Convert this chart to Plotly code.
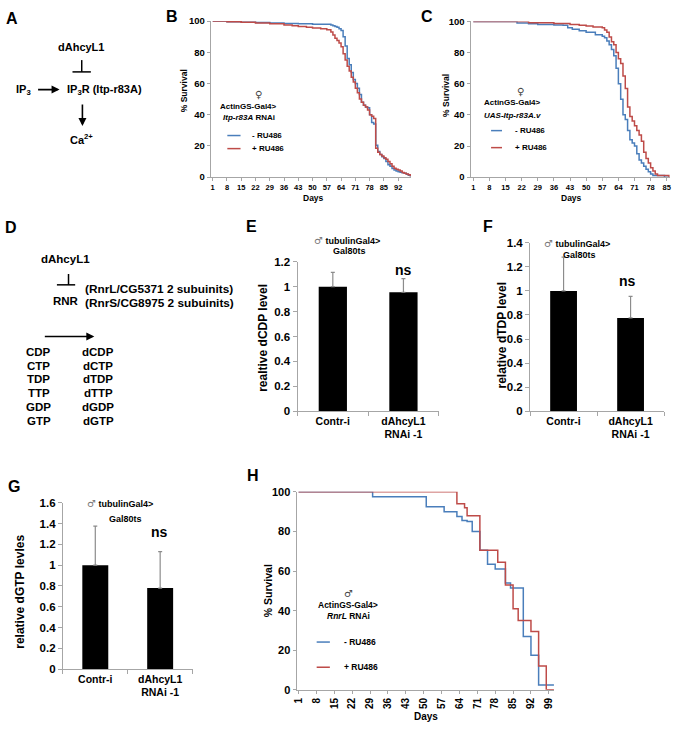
import plotly.graph_objects as go

W, H = 675, 729
def px(x): return x / W
def py(y): return 1 - y / H

# ---------------- data ----------------
# Panel B
b_days_minus = [1, 8, 15, 22, 29, 36, 43, 50, 57, 59, 60, 61, 62, 63, 64, 65, 66, 67, 68, 69, 70, 71, 72, 73, 74, 75, 76, 77, 78, 79, 80, 81, 82, 83, 84, 85, 86, 87, 88, 89, 90, 91, 92, 93, 94, 95, 96, 97, 98]
b_surv_minus = [100, 99.6, 99.3, 99.0, 98.7, 98.4, 98.2, 98.0, 98.0, 97.5, 97, 96.5, 96, 95, 94, 90, 84, 76, 72, 67, 62.5, 60, 57, 53, 48, 46, 45, 44.5, 40, 35, 34, 20.5, 16.5, 14.5, 13, 12, 10, 8, 7, 5.5, 4.6, 4, 3.5, 3.2, 2.8, 2.5, 1.8, 1.2, 0.4]
b_days_plus = [1, 8, 15, 22, 29, 36, 40, 43, 47, 50, 54, 57, 59, 60, 61, 62, 63, 64, 65, 66, 67, 68, 69, 70, 71, 72, 73, 74, 75, 76, 77, 78, 79, 80, 81, 82, 83, 84, 85, 86, 87, 88, 89, 90, 91, 92, 93, 94, 95, 96, 97, 98]
b_surv_plus = [100, 99.5, 99.2, 98.8, 98.2, 97.5, 97, 96.5, 96, 95.5, 95, 94.5, 93, 91, 89, 87.5, 86, 83.5, 79, 75, 71, 68, 64, 61, 57, 54, 50, 48, 46, 45, 43, 40, 39, 37.5, 18.5, 16, 14.5, 13.5, 12.5, 11.5, 10, 8.5, 7, 5.7, 5, 4.5, 4, 3, 2.5, 2, 1.5, 0.5]
b_ticks = [1, 8, 15, 22, 29, 36, 43, 50, 57, 64, 71, 78, 85, 92]

# Panel C
c_days_minus = [1, 15, 20, 25, 29, 36, 40, 42, 44, 47, 50, 54, 57, 58, 59, 60, 61, 62, 63, 64, 65, 66, 67, 68, 69, 70, 71, 72, 73, 74, 75, 76, 77, 78, 79, 84, 86]
c_surv_minus = [100, 100, 99, 98.5, 98, 97.7, 97.5, 96, 95, 94, 93, 91.5, 90.5, 89.5, 87.5, 85, 82, 78, 70, 60, 50, 40, 37, 30, 24, 22, 20, 15, 11, 9, 7, 5, 3.5, 2, 1, 0, 0]
c_days_plus = [1, 20, 25, 36, 43, 47, 50, 53, 57, 58, 59, 60, 61, 62, 63, 64, 65, 66, 67, 68, 69, 70, 71, 72, 73, 74, 75, 76, 77, 78, 79, 80, 81, 85, 86]
c_surv_plus = [100, 100, 99.2, 98.7, 98, 97.5, 97, 96.5, 96, 94.5, 93, 90, 87, 85, 80, 76, 73, 65, 57, 45, 39, 36, 33, 30, 27, 23, 16, 12, 9, 6, 4, 2, 1, 1, 0]
c_ticks = [1, 8, 15, 22, 29, 36, 43, 50, 57, 64, 71, 78, 85]

# Panel H
h_days_minus = [1, 30, 51, 58, 63, 65, 67, 69, 72, 75, 78, 82, 84, 89, 92, 95, 101]
h_surv_minus = [100, 97.5, 92.5, 90, 87.5, 85.5, 85, 80, 70.5, 63.5, 61, 54, 51.5, 27, 17.5, 2.5, 2.5]
h_days_plus = [1, 63, 66, 67, 72, 79, 82, 85, 87, 92, 95, 98, 101]
h_surv_plus = [100, 94, 92, 88, 70.5, 64.5, 53, 41, 35, 29.5, 12, 0, 0]
h_ticks = [1, 8, 15, 22, 29, 36, 43, 50, 57, 64, 71, 78, 85, 92, 99]

# Bar panels
bar_labels = ["Contr-i", "dAhcyL1<br>RNAi -1"]
e_values = [1.0, 0.955]
e_errors = [0.115, 0.11]
f_values = [1.0, 0.775]
f_errors = [0.28, 0.18]
g_values = [1.0, 0.78]
g_errors = [0.375, 0.35]

# Panel D lists
d_substrates = ["CDP", "CTP", "TDP", "TTP", "GDP", "GTP"]
d_products = ["dCDP", "dCTP", "dTDP", "dTTP", "dGDP", "dGTP"]

# ---------------- style ----------------
BLUE = "#4a7ebb"
RED = "#be4b48"
AX = "#a6a6a6"
ERR = "#8c8c8c"
FONT = "Liberation Sans, Arial, sans-serif"
SYMFONT = "DejaVu Sans, sans-serif"

fig = go.Figure()

def surv(days, vals, color, xa, ya):
    fig.add_trace(go.Scatter(x=days, y=vals, mode="lines",
                             line=dict(color=color, width=1.5, shape="hv"),
                             xaxis=xa, yaxis=ya, showlegend=False, hoverinfo="skip"))

surv(b_days_minus, b_surv_minus, BLUE, "x", "y")
surv(b_days_plus, b_surv_plus, RED, "x", "y")
surv(c_days_minus, c_surv_minus, BLUE, "x2", "y2")
surv(c_days_plus, c_surv_plus, RED, "x2", "y2")
surv(h_days_minus, h_surv_minus, BLUE, "x3", "y3")
surv(h_days_plus, h_surv_plus, RED, "x3", "y3")

def bars(vals, errs, xa, ya):
    fig.add_trace(go.Bar(x=[0, 1], y=vals, width=0.4, marker=dict(color="black", line=dict(width=0)),
                         error_y=dict(type="data", symmetric=False, array=errs, arrayminus=[0, 0],
                                      color=ERR, thickness=1.2, width=2),
                         xaxis=xa, yaxis=ya, showlegend=False, hoverinfo="skip"))

bars(e_values, e_errors, "x4", "y4")
bars(f_values, f_errors, "x5", "y5")
bars(g_values, g_errors, "x6", "y6")

def tf(size):
    return dict(family=FONT, size=size, color="black", weight="bold")

def surv_x(domain, rng, ticks, anchor, size, angle=0):
    return dict(domain=domain, range=rng, anchor=anchor, tickmode="array", tickvals=ticks,
                ticktext=[str(t) for t in ticks], showline=True, linecolor=AX, linewidth=1,
                ticks="outside", ticklen=3, tickcolor=AX, showgrid=False, zeroline=False,
                tickfont=tf(size), tickangle=angle, ticklabeloverflow="allow", fixedrange=True)

def surv_y(domain, anchor, size):
    return dict(domain=domain, range=[0, 100], anchor=anchor, tickmode="array",
                tickvals=[0, 20, 40, 60, 80, 100], showline=True, linecolor=AX, linewidth=1,
                ticks="outside", ticklen=3, tickcolor=AX, showgrid=False, zeroline=False,
                tickfont=tf(size), fixedrange=True)

def bar_x(domain, anchor):
    return dict(domain=domain, range=[-0.5, 1.5], anchor=anchor, tickmode="array", tickvals=[0, 1],
                ticktext=bar_labels, showline=True, linecolor=AX, linewidth=1, ticks="",
                ticklabelstandoff=0, ticklabeloverflow="allow",
                minor=dict(ticks="outside", ticklen=4, tickcolor=AX, tickmode="array", tickvals=[-0.5, 0.5, 1.5]),
                showgrid=False, zeroline=False, tickfont=tf(10.5), fixedrange=True)

def bar_y(domain, anchor, top):
    vals = [round(i * 0.2, 1) for i in range(int(round(top / 0.2)) + 1)]
    txt = [("%g" % v) for v in vals]
    return dict(domain=domain, range=[0, top], anchor=anchor, tickmode="array", tickvals=vals,
                ticktext=txt, showline=True, linecolor=AX, linewidth=1, ticks="outside", ticklen=4,
                tickcolor=AX, showgrid=False, zeroline=False, tickfont=tf(11.5), fixedrange=True)

fig.update_layout(
    width=W, height=H, margin=dict(l=0, r=0, t=0, b=0),
    paper_bgcolor="white", plot_bgcolor="white", showlegend=False,
    bargap=0.6,
    xaxis=surv_x([px(208.3), px(410)], [0.05, 98.3], b_ticks, "y", 7.5),
    yaxis=surv_y([py(174), py(15.3)], "x", 9.5),
    xaxis2=surv_x([px(470), px(670.7)], [-0.2, 86.3], c_ticks, "y2", 7.5),
    yaxis2=surv_y([py(174), py(15.7)], "x2", 9.5),
    xaxis3=surv_x([px(294.7), px(554.3)], [0.2, 101.1], h_ticks, "y3", 10, angle=-90),
    yaxis3=surv_y([py(695.3), py(494)], "x3", 11),
    xaxis4=bar_x([px(295.7), px(438)], "y4"),
    yaxis4=bar_y([py(412), py(260)], "x4", 1.2),
    xaxis5=bar_x([px(530), px(665)], "y5"),
    yaxis5=bar_y([py(412), py(240.7)], "x5", 1.4),
    xaxis6=bar_x([px(59.3), px(190)], "y6"),
    yaxis6=bar_y([py(674.3), py(505)], "x6", 1.6),
)

def text(x, y, s, size, xanchor="center", angle=0, bold=True, family=FONT, color="black"):
    fig.add_annotation(x=px(x), y=py(y), xref="paper", yref="paper", text=s, showarrow=False,
                       xanchor=xanchor, yanchor="middle", textangle=angle,
                       font=dict(family=family, size=size, color=color, weight="bold" if bold else "normal"))

def line(x0, y0, x1, y1, color="black", width=1.5):
    fig.add_shape(type="line", xref="paper", yref="paper", x0=px(x0), y0=py(y0), x1=px(x1), y1=py(y1),
                  line=dict(color=color, width=width))

def arrow(x0, y0, x1, y1):
    fig.add_annotation(x=px(x1), y=py(y1), xref="paper", yref="paper", ax=x0 - x1, ay=y0 - y1,
                       axref="pixel", ayref="pixel", text="", showarrow=True, arrowhead=2,
                       arrowsize=1, arrowwidth=1.6, arrowcolor="black")

# panel letters
for lab, x, y in [("A", 8, 13), ("B", 169, 11), ("C", 426, 11), ("D", 7, 225), ("E", 249, 224),
                  ("F", 488, 224), ("G", 10, 489), ("H", 251, 477)]:
    text(x, y, lab, 16)

# ---- Panel A ----
text(78, 42, "dAhcyL1", 11)
line(78.3, 55, 78.3, 67)
line(69, 67, 87.5, 67)
text(20, 85, "IP<sub>3</sub>", 11)
arrow(33, 85, 56, 85)
text(101.7, 85, "IP<sub>3</sub>R (Itp-r83A)", 11)
arrow(79, 99, 79, 122)
text(78, 135, "Ca<sup>2+</sup>", 11)

# ---- Panel D ----
text(62, 257.5, "dAhcyL1", 11.5)
line(65, 272.5, 65, 283.5)
line(53.3, 283.5, 71.7, 283.5)
text(62, 300, "RNR", 11.5)
text(80, 287.5, "(RnrL/CG5371 2 subuinits)", 11.8, xanchor="left")
text(80, 301.7, "(RnrS/CG8975 2 subuinits)", 11.8, xanchor="left")
arrow(40, 336, 91, 336)
for i, (s, p) in enumerate(zip(d_substrates, d_products)):
    text(35, 351.7 + 14 * i, s, 11.5)
    text(95, 351.7 + 14 * i, p, 11.5)

# ---- Panel B annotations ----
text(181, 86, "% Survival", 8.5, angle=-90)
text(311.7, 195.5, "Days", 8.5)
text(256.7, 90, "♀", 10, bold=False, family=SYMFONT, color="#444")
text(246.7, 101.7, "ActinGS-Gal4>", 8)
text(246.7, 113.3, "<i>Itp-r83A</i> RNAi", 8)
line(225, 131.7, 238.3, 131.7, BLUE, 1.5)
text(248.3, 131.7, "- RU486", 8, xanchor="left")
line(225, 145, 238.3, 145, RED, 1.5)
text(248.3, 145, "+ RU486", 8, xanchor="left")

# ---- Panel C annotations ----
text(446, 90.7, "% Survival", 8.5, angle=-90)
text(571.7, 195, "Days", 8.5)
text(520, 86.7, "♀", 10, bold=False, family=SYMFONT, color="#444")
text(481.7, 98.3, "ActinGS-Gal4>", 8, xanchor="left")
text(481.7, 111.7, "<i>UAS-Itp-r83A.v</i>", 8, xanchor="left")
line(490.7, 126.7, 501.7, 126.7, BLUE, 1.5)
text(513.3, 126.7, "- RU486", 8, xanchor="left")
line(490.7, 144, 501.7, 144, RED, 1.5)
text(513.3, 144, "+ RU486", 8, xanchor="left")

# ---- Panel H annotations ----
text(266, 595, "% Survival", 10.5, angle=-90)
text(425, 722, "Days", 10)
text(346.7, 597, "♂", 10, bold=False, family=SYMFONT, color="#444")
text(346.7, 609.3, "ActinGS-Gal4>", 8.5)
text(346.7, 620.7, "<i>RnrL</i> RNAi", 8.5)
line(315, 646.7, 328.3, 646.7, BLUE, 1.5)
text(340.7, 646.7, "- RU486", 8.5, xanchor="left")
line(315, 672.3, 328.3, 672.3, RED, 1.5)
text(340.7, 672.3, "+ RU486", 8.5, xanchor="left")

MALE = ("<span style='font-weight:normal;color:#777;font-family:DejaVu Sans;font-size:10px'>♂</span>"
        " tubulinGal4>")

# ---- Panel E ----
text(261, 337.3, "realtive dCDP level", 12, angle=-90)
text(346, 238.3, MALE, 9)
text(348, 249.3, "Gal80ts", 9)
text(402, 268, "ns", 14)

# ---- Panel F ----
text(501.7, 334, "relative dTDP level", 12, angle=-90)
text(577, 241.7, MALE, 9)
text(580, 253, "Gal80ts", 9)
text(628, 280, "ns", 14)

# ---- Panel G ----
text(16.7, 596, "relative dGTP levles", 12, angle=-90)
text(117, 506, MALE, 9)
text(122, 521.7, "Gal80ts", 9)
text(156.7, 535, "ns", 14)

fig.write_html("out.html", config={"displayModeBar": False},
               post_script="document.body.style.margin='0';")
